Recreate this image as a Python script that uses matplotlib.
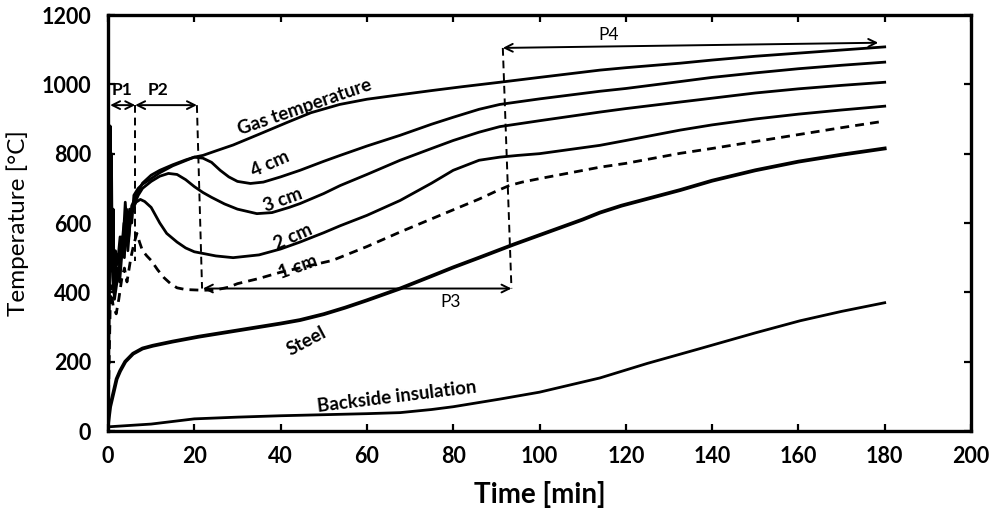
import matplotlib
matplotlib.use("Agg")
import matplotlib.pyplot as plt

plt.rcParams['font.family'] = ['Lato', 'DejaVu Sans']

# ---------------- data ----------------
t_gas = [0, 0.2, 0.35, 0.5, 0.65, 0.8, 1.0, 1.2, 1.4, 1.7, 2.2, 2.8, 3.4, 4.0, 4.5, 5.0, 5.5, 6.0, 7,
         8, 10, 12, 15, 18, 20, 22, 25, 29, 35, 41.5, 47, 53.7, 60, 67.7, 75, 82, 90.8, 100, 114, 120,
         132.6, 140, 150, 160, 170, 180]
T_gas = [20, 870, 620, 880, 520, 800, 460, 640, 430, 520, 480, 560, 520, 660, 560, 640, 600, 680, 700,
         712, 728, 745, 765, 780, 790, 795, 808, 825, 856, 890, 918, 942, 957, 970, 982, 993, 1006,
         1020, 1041, 1048, 1061, 1070, 1081, 1090, 1099, 1108]

t_4cm = [0, 0.4, 0.8, 1.2, 1.8, 2.5, 3.2, 3.8, 4.3, 4.8, 5.5, 6.3, 7, 8, 10, 12, 15, 18, 20, 22, 24,
         26, 28, 30, 33, 36, 40, 44.5, 50, 53.8, 60, 67.7, 75, 80, 86, 90.8, 100, 114, 120, 132.6, 140,
         150, 160, 170, 180]
T_4cm = [20, 780, 650, 420, 480, 450, 560, 500, 640, 560, 650, 670, 690, 715, 738, 752, 768, 782, 790,
         787, 775, 752, 733, 720, 714, 718, 733, 752, 778, 795, 822, 853, 885, 905, 928, 942, 958, 980,
         988, 1008, 1020, 1033, 1045, 1055, 1064]

t_3cm = [0, 0.4, 0.9, 1.3, 2.0, 2.7, 3.4, 4.0, 4.6, 5.3, 6.0, 7, 8, 10, 12, 14, 16, 18, 20, 22, 24, 27,
         30, 34.5, 38, 42, 44.5, 50, 53.8, 60, 67.7, 75, 80, 86, 90.8, 100, 114, 120, 132.6, 140, 150,
         160, 170, 180]
T_3cm = [20, 700, 520, 400, 460, 430, 540, 600, 520, 630, 650, 680, 700, 720, 735, 743, 740, 725, 705,
         688, 674, 655, 640, 627, 630, 645, 656, 685, 708, 740, 781, 815, 838, 862, 878, 895, 920, 930,
         949, 960, 975, 987, 997, 1006]

t_2cm = [0, 0.5, 1.0, 1.5, 2.2, 3.0, 3.7, 4.3, 5.0, 5.7, 6.5, 7.5, 8.5, 10, 12, 13.6, 16, 18, 20, 25,
         29, 35, 40, 44.5, 50, 53.8, 60, 67.7, 75, 80, 86, 90.8, 95, 100, 114, 120, 132.6, 140, 150,
         160, 170, 180]
T_2cm = [20, 620, 480, 380, 440, 500, 600, 540, 620, 640, 660, 668, 662, 645, 600, 570, 545, 528, 517,
         505, 500, 508, 525, 545, 572, 592, 622, 665, 715, 752, 781, 790, 795, 800, 824, 838, 868, 883,
         900, 914, 926, 937]

t_1cm = [0, 0.6, 1.2, 1.9, 2.5, 3.2, 3.8, 4.4, 5.3, 6.0, 6.7, 7.3, 8, 9, 10, 11.5, 13, 14.5, 16, 18,
         20, 22, 25, 28, 30, 35, 40, 45, 52, 60, 67.7, 75, 80, 86, 90, 93, 96, 100, 114, 120, 132.6,
         140, 150, 160, 170, 180]
T_1cm = [20, 420, 360, 338, 380, 440, 470, 430, 500, 540, 570, 545, 520, 505, 492, 465, 442, 425, 413,
         408, 407, 406, 407, 415, 425, 440, 458, 472, 492, 532, 574, 612, 638, 669, 692, 708, 718, 728,
         761, 772, 801, 815, 835, 855, 875, 894]

t_steel = [0, 0.5, 1.2, 2, 2.8, 4, 5.8, 8, 10.4, 15, 21, 30, 40, 44.5, 50, 55, 60, 67.7, 75, 80, 86,
           94, 100, 110, 114, 119, 132.6, 140, 150, 160, 170, 180]
T_steel = [20, 70, 107, 150, 173, 200, 223, 238, 246, 258, 272, 290, 310, 320, 337, 356, 377, 411, 447,
           472, 500, 538, 565, 610, 630, 650, 695, 722, 752, 777, 797, 815]

t_back = [0, 10, 20, 30, 40, 50, 60, 67.7, 75, 80, 90.8, 100, 114, 125, 137, 150, 160.4, 170, 180]
T_back = [12, 20, 35, 40, 44, 47, 50, 53, 62, 70, 92, 112, 153, 195, 237, 283, 318, 345, 370]

x_ticks = [0, 20, 40, 60, 80, 100, 120, 140, 160, 180, 200]
y_ticks = [0, 200, 400, 600, 800, 1000, 1200]

# phase boundaries [min]
phase_edges = [0.5, 6.3, 20.6, 93.5, 178.5]
phase_names = ["P1", "P2", "P3", "P4"]

# ---------------- figure ----------------
fig = plt.figure(figsize=(9.9, 5.18), dpi=100)
ax = fig.add_axes([108 / 990, 1 - 431 / 518, (971 - 108) / 990, (431 - 15) / 518])

lw = 2.0
ax.plot(t_gas, T_gas, color='black', lw=lw)
ax.plot(t_4cm, T_4cm, color='black', lw=lw)
ax.plot(t_3cm, T_3cm, color='black', lw=lw)
ax.plot(t_2cm, T_2cm, color='black', lw=lw)
ax.plot(t_1cm, T_1cm, color='black', lw=lw, ls=(0, (3.2, 2.2)))
ax.plot(t_steel, T_steel, color='black', lw=2.7)
ax.plot(t_back, T_back, color='black', lw=2.0)

ax.set_xlim(0, 200)
ax.set_ylim(0, 1200)
ax.set_xticks(x_ticks)
ax.set_yticks(y_ticks)
ax.tick_params(direction='in', top=True, right=True, length=5, width=1.6,
               labelsize=15.5)
ax.tick_params(axis='x', pad=11)
ax.tick_params(axis='y', pad=12)
for lab in ax.get_xticklabels() + ax.get_yticklabels():
    lab.set_fontweight('bold')
for s in ax.spines.values():
    s.set_linewidth(2.4)

ax.set_xlabel("Time [min]", fontsize=20, fontweight='bold', labelpad=10)
ax.set_ylabel("Temperature [\u00b0C]", fontsize=17.5, labelpad=9)

# ---------------- phase annotations ----------------
arr = dict(arrowstyle='<->', color='black', lw=1.4, shrinkA=0, shrinkB=0, mutation_scale=14)
dash = dict(color='black', lw=1.4, ls=(0, (4, 2.5)))

ax.annotate("", xy=(phase_edges[0], 940), xytext=(phase_edges[1], 940), arrowprops=arr)
ax.annotate("", xy=(phase_edges[1], 940), xytext=(phase_edges[2], 940), arrowprops=arr)
ax.plot([phase_edges[1], phase_edges[1]], [940, 490], **dash)
ax.plot([phase_edges[2], 21.8], [940, 411], **dash)
ax.annotate("", xy=(22.0, 411), xytext=(phase_edges[3], 411), arrowprops=arr)
ax.plot([91.5, phase_edges[3]], [1105, 411], **dash)
ax.annotate("", xy=(91.5, 1105), xytext=(phase_edges[4], 1120), arrowprops=arr)

ax.text(3.3, 983, phase_names[0], fontsize=12.5, fontweight='bold', ha='center', va='center')
ax.text(11.6, 983, phase_names[1], fontsize=12.5, fontweight='bold', ha='center', va='center')
ax.text(79.5, 372, phase_names[2], fontsize=12.5, ha='center', va='center')
ax.text(116, 1142, phase_names[3], fontsize=12.5, ha='center', va='center')

# ---------------- curve labels ----------------
lab_kw = dict(fontsize=13.5, fontweight='bold', ha='center', va='center', rotation_mode='anchor')
ax.text(45.5, 935, "Gas temperature", rotation=19, **lab_kw)
ax.text(37.5, 772, "4 cm", rotation=24, **lab_kw)
ax.text(40.5, 667, "3 cm", rotation=20, **lab_kw)
ax.text(43, 560, "2 cm", rotation=24, **lab_kw)
ax.text(44, 472, "1 cm", rotation=20, **lab_kw)
ax.text(46, 258, "Steel", rotation=28, **lab_kw)
ax.text(67, 98, "Backside insulation", rotation=7, **lab_kw)

fig.savefig("out.png", dpi=100)
